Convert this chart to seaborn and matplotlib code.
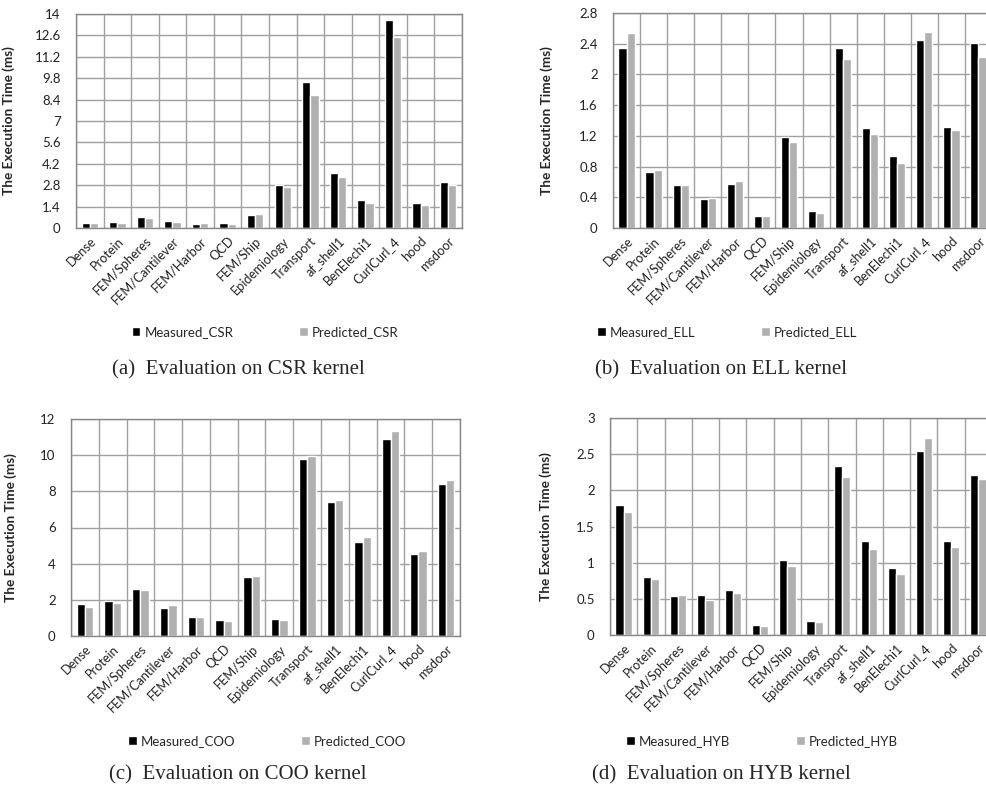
import pandas as pd
import numpy as np
import matplotlib
matplotlib.use("Agg")
import matplotlib.pyplot as plt
import matplotlib.transforms as mtransforms
import seaborn as sns

matrices = ["Dense", "Protein", "FEM/Spheres", "FEM/Cantilever", "FEM/Harbor", "QCD",
            "FEM/Ship", "Epidemiology", "Transport", "af_shell1", "BenElechi1",
            "CurlCurl_4", "hood", "msdoor"]

csr_measured = [0.30, 0.39, 0.74, 0.44, 0.28, 0.30, 0.87, 2.81, 9.55, 3.61, 1.81, 13.6, 1.61, 3.00]
csr_predicted = [0.35, 0.35, 0.67, 0.41, 0.30, 0.28, 0.89, 2.66, 8.67, 3.31, 1.63, 12.5, 1.48, 2.81]

ell_measured = [2.34, 0.73, 0.56, 0.38, 0.57, 0.16, 1.19, 0.22, 2.34, 1.30, 0.94, 2.45, 1.31, 2.41]
ell_predicted = [2.54, 0.76, 0.56, 0.39, 0.61, 0.15, 1.12, 0.20, 2.20, 1.22, 0.85, 2.55, 1.27, 2.23]

coo_measured = [1.76, 1.96, 2.62, 1.56, 1.05, 0.86, 3.28, 0.94, 9.80, 7.41, 5.20, 10.9, 4.55, 8.38]
coo_predicted = [1.63, 1.83, 2.55, 1.71, 1.03, 0.84, 3.30, 0.90, 9.98, 7.54, 5.50, 11.34, 4.70, 8.60]

hyb_measured = [1.80, 0.80, 0.54, 0.55, 0.62, 0.14, 1.03, 0.20, 2.33, 1.30, 0.92, 2.54, 1.30, 2.21]
hyb_predicted = [1.70, 0.77, 0.55, 0.49, 0.58, 0.13, 0.95, 0.18, 2.19, 1.19, 0.84, 2.73, 1.22, 2.16]

sns.set_style("white")
plt.rcParams["font.family"] = ["Lato", "DejaVu Sans"]

W, H = 987, 792
fig = plt.figure(figsize=(9.87, 7.92), dpi=100)


def draw_panel(left, top, right, bottom, label_x, measured, predicted, kernel, ymax, step,
               leg_x, leg_y, cap_x, cap_y, caption):
    ax = fig.add_axes([left / W, 1 - bottom / H, (right - left) / W, (bottom - top) / H])
    df = pd.DataFrame({
        "matrix": matrices * 2,
        "time": measured + predicted,
        "series": ["Measured_" + kernel] * len(matrices) + ["Predicted_" + kernel] * len(matrices),
    })
    sns.barplot(data=df, x="matrix", y="time", hue="series",
                palette=["#000000", "#b0b0b0"], width=0.6, ax=ax,
                saturation=1, errorbar=None)
    ax.set_xlim(-0.5, len(matrices) - 0.5)
    ax.set_ylim(0, ymax)
    ticks = np.round(np.arange(0, ymax + step / 2, step), 2)
    ax.set_yticks(ticks)
    ax.set_yticklabels([("%g" % t) for t in ticks], fontsize=9.5, color="#222222")
    ax.set_xticks(range(len(matrices)))
    ax.set_xticklabels(matrices, rotation=45, ha="right", rotation_mode="anchor",
                       fontsize=9.2, color="#222222")
    shift = mtransforms.ScaledTranslation(-3 / 100, 0, fig.dpi_scale_trans)
    for lab in ax.get_xticklabels():
        lab.set_transform(lab.get_transform() + shift)
    ax.set_xticks(np.arange(-0.5, len(matrices), 1), minor=True)
    ax.tick_params(axis="x", which="major", length=0, pad=5)
    ax.tick_params(axis="x", which="minor", length=5, color="#888888", direction="out")
    ax.tick_params(axis="y", length=5, pad=6, color="#888888", direction="out")
    ax.grid(True, axis="y", which="major", color="#a0a0a0", linewidth=1)
    ax.grid(True, axis="x", which="minor", color="#a0a0a0", linewidth=1)
    ax.set_axisbelow(True)
    for s in ax.spines.values():
        s.set_color("#888888")
        s.set_linewidth(1)
    ax.set_xlabel("")
    ax.set_ylabel("The Execution Time (ms)", fontsize=9.8, fontweight="bold")
    ax.yaxis.set_label_coords((label_x - left) / (right - left), 0.5)
    handles, labels = ax.get_legend_handles_labels()
    ax.legend_.remove()
    fig.legend(handles, labels, loc="center", bbox_to_anchor=(leg_x / W, 1 - leg_y / H),
               ncol=2, frameon=False, fontsize=9.5, handlelength=0.65, handleheight=0.65,
               handletextpad=0.3, columnspacing=5)
    fig.text(cap_x / W, 1 - cap_y / H, caption, ha="center", va="center",
             family="Liberation Serif", fontsize=15)
    return ax


draw_panel(76, 14, 462, 228, 15, csr_measured, csr_predicted, "CSR", 14, 1.4,
           265, 332, 238, 370, "(a)  Evaluation on CSR kernel")
draw_panel(613, 13, 992, 228, 553, ell_measured, ell_predicted, "ELL", 2.8, 0.4,
           727, 332, 721, 370, "(b)  Evaluation on ELL kernel")
draw_panel(71, 419, 460, 636, 17, coo_measured, coo_predicted, "COO", 12, 2,
           267, 741, 238, 775, "(c)  Evaluation on COO kernel")
draw_panel(610, 418, 992, 635, 552, hyb_measured, hyb_predicted, "HYB", 3, 0.5,
           762, 741, 721, 775, "(d)  Evaluation on HYB kernel")

fig.savefig("out.png", dpi=100)
